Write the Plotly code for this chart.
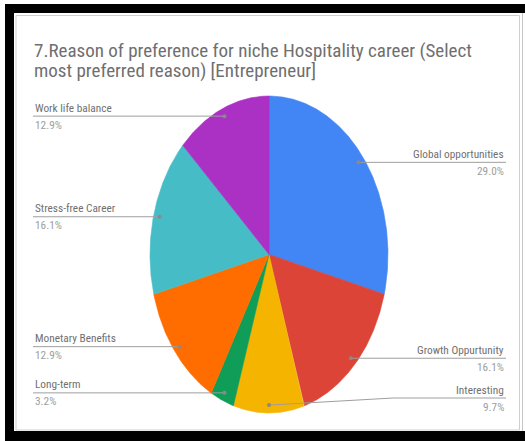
import numpy as np
import plotly.graph_objects as go

# Survey data: most preferred reason (entrepreneur respondents)
reasons = ["Global opportunities", "Growth Oppurtunity", "Interesting", "Long-term",
           "Monetary Benefits", "Stress-free Career", "Work life balance"]
responses = [9, 5, 3, 1, 4, 5, 4]
slice_colors = ["#4285F4", "#DB4437", "#F4B400", "#0F9D58", "#FF6D00", "#46BDC6", "#AB30C4"]
title_lines = ["7.Reason of preference for niche Hospitality career (Select",
               "most preferred reason) [Entrepreneur]"]

# Layout (pixel coordinates on hidden axes)
W, H = 525, 441
CX, CY, RX, RY = 269, 254.5, 119, 158.5
DOT_R = 0.95
LEFT_X, RIGHT_X = 33, 506
FONT = "Liberation Sans Narrow, Arial Narrow, Roboto Condensed, sans-serif"
NAME_COLOR = "#707070"
PCT_COLOR = "#9e9e9e"
LINE_COLOR = "#9e9e9e"
# labels moved off their anchor height: name -> (label y, kink x)
label_shift = {"Interesting": (398, 393)}

total = sum(responses)
shares = [v / total for v in responses]
percents = [f"{100 * s:.1f}%" for s in shares]


def ellipse_pt(theta_deg, r=1.0):
    t = np.radians(theta_deg)
    return CX + r * RX * np.sin(t), CY - r * RY * np.cos(t)


fig = go.Figure()

start = 0.0
annotations = []
for name, share, pct, color in zip(reasons, shares, percents, slice_colors):
    a0, a1 = start * 360, (start + share) * 360
    th = np.linspace(a0, a1, max(int((a1 - a0) * 3), 6))
    xs, ys = ellipse_pt(th)
    fig.add_trace(go.Scatter(
        x=[CX, *xs, CX], y=[CY, *ys, CY], mode="lines", fill="toself",
        fillcolor=color, line=dict(color=color, width=0.6),
        hoverinfo="text", text=f"{name}: {pct}", showlegend=False))

    mid = (a0 + a1) / 2
    dx, dy = ellipse_pt(mid, DOT_R)
    right = mid <= 180.0 + 1e-6
    end_x = RIGHT_X if right else LEFT_X
    if name in label_shift:
        ly, kx = label_shift[name]
        lx_path, ly_path = [dx, kx, end_x], [dy, ly, ly]
    else:
        ly = dy
        lx_path, ly_path = [dx, end_x], [dy, dy]
    fig.add_trace(go.Scatter(x=lx_path, y=ly_path, mode="lines",
                             line=dict(color=LINE_COLOR, width=1),
                             hoverinfo="skip", showlegend=False))
    fig.add_trace(go.Scatter(x=[dx], y=[dy], mode="markers",
                             marker=dict(color="#8a8a8a", size=4),
                             hoverinfo="skip", showlegend=False))
    anchor = "right" if right else "left"
    annotations.append(dict(x=end_x, y=ly - 8, text=name, xanchor=anchor, yanchor="middle",
                            showarrow=False, font=dict(family=FONT, size=11.3, color=NAME_COLOR)))
    annotations.append(dict(x=end_x, y=ly + 9, text=pct, xanchor=anchor, yanchor="middle",
                            showarrow=False, font=dict(family=FONT, size=11.3, color=PCT_COLOR)))
    start += share

for i, line in enumerate(title_lines):
    annotations.append(dict(x=32, y=50 + 20 * i, text=line, xanchor="left", yanchor="middle",
                            showarrow=False,
                            font=dict(family=FONT, size=19, color="#6f6f6f")))
for a in annotations:
    a.update(xref="x", yref="y")

shapes = [
    # chart border
    dict(type="rect", x0=16, y0=15.5, x1=519.5, y1=430, line=dict(color="#cfcfcf", width=1)),
    dict(type="line", x0=522.5, y0=13, x1=522.5, y1=431, line=dict(color="#c4c4c4", width=1)),
    # dark outer frame
    dict(type="rect", x0=5, y0=4, x1=525, y1=13, fillcolor="black", line=dict(width=0)),
    dict(type="rect", x0=5, y0=4, x1=14, y1=441, fillcolor="black", line=dict(width=0)),
    dict(type="rect", x0=5, y0=431, x1=525, y1=441, fillcolor="black", line=dict(width=0)),
]
for s in shapes:
    s.update(xref="x", yref="y", layer="above")

fig.update_layout(
    width=W, height=H, margin=dict(l=0, r=0, t=0, b=0),
    paper_bgcolor="white", plot_bgcolor="white",
    xaxis=dict(range=[0, W], visible=False, fixedrange=True),
    yaxis=dict(range=[H, 0], visible=False, fixedrange=True),
    annotations=annotations, shapes=shapes, showlegend=False,
)

fig.write_html("out.html")
